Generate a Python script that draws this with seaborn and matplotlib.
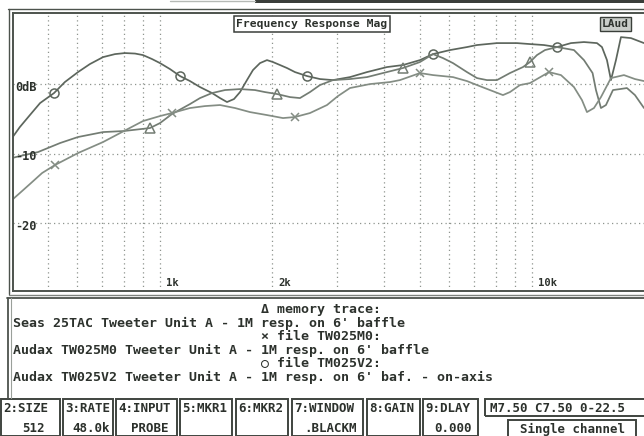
import numpy as np
import matplotlib
matplotlib.use("Agg")
import matplotlib.pyplot as plt
import seaborn as sns
from matplotlib.patches import Rectangle
from matplotlib.lines import Line2D
from matplotlib.ticker import NullLocator, FixedLocator
import matplotlib.transforms as mtransforms

sns.set_theme(style="white")
plt.rcParams['font.family'] = ['DejaVu Sans Mono', 'DejaVu Sans']

# ---------------- data ----------------
# O file TM025V2 (Audax TW025V2, on-axis)
tm025v2_freq = [400, 420, 447, 476, 519, 555, 602, 648, 703, 757, 805, 857, 900, 952, 1000,
                1064, 1132, 1204, 1281, 1380, 1450, 1514, 1581, 1641, 1713, 1778, 1857, 1939,
                2012, 2102, 2195, 2306, 2484, 2692, 2917, 3241, 3601, 4075, 4499, 4998, 5417,
                6018, 6686, 7112, 8049, 9111, 9874, 10768, 11670, 12726, 13792, 14948, 15418,
                15902, 16301, 16813, 17341, 18448, 20000]
tm025v2_db = [-7.75, -6.17, -4.45, -2.73, -1.29, 0.29, 1.72, 2.87, 3.87, 4.30, 4.45, 4.38, 4.16,
              3.59, 3.01, 2.15, 1.15, 0.43, -0.43, -1.29, -2.01, -2.58, -2.15, -1.15, 0.57, 2.01,
              3.01, 3.44, 3.16, 2.73, 2.30, 1.72, 1.15, 0.72, 0.57, 1.00, 1.72, 2.44, 2.73, 3.44,
              4.30, 4.88, 5.31, 5.60, 5.88, 5.88, 5.74, 5.60, 5.31, 5.88, 6.03, 5.88, 5.31, 3.44,
              0.57, 3.44, 6.74, 6.60, 5.88]
tm025v2_marks = [519, 1132, 2484, 5417, 11670]

# Δ memory trace (Seas 25TAC)
seas_freq = [400, 420, 470, 539, 602, 703, 800, 940, 1000, 1077, 1204, 1281, 1380, 1495, 1641,
             1800, 1915, 2063, 2236, 2378, 2530, 2692, 2917, 3241, 3601, 3975, 4499, 4998, 5417,
             5763, 6131, 6686, 7112, 7566, 8049, 8724, 9455, 9874, 10311, 10835, 11670, 12965,
             13792, 14548, 14856, 15322, 15804, 16504, 17234, 17997, 18911, 20000]
seas_db = [-10.62, -10.33, -9.76, -8.46, -7.60, -6.89, -6.74, -6.31, -5.60, -4.30, -2.87, -2.01,
           -1.29, -0.86, -0.72, -0.86, -1.15, -1.43, -1.87, -2.01, -1.15, -0.14, 0.57, 0.72, 1.00,
           1.58, 2.30, 3.16, 4.30, 3.73, 3.01, 1.72, 0.86, 0.57, 0.57, 1.58, 2.44, 3.16, 4.16,
           4.88, 5.31, 4.88, 3.44, 1.58, -0.86, -3.44, -3.01, -0.86, -0.72, -0.57, -1.58, -3.44]
seas_marks = [940, 2063, 4499, 9874]

# × file TW025M0 (Audax TW025M0)
tw025m0_freq = [400, 420, 447, 482, 522, 602, 703, 800, 900, 1000, 1077, 1204, 1321, 1450, 1591,
                1745, 1939, 2141, 2306, 2530, 2811, 3009, 3241, 3668, 4151, 4416, 4998, 5417,
                6131, 6686, 7112, 7708, 8354, 8724, 9281, 9874, 11106, 11962, 12965, 13623,
                14051, 14673, 15322, 16301, 17666, 18911, 20000]
tw025m0_db = [-16.64, -15.64, -14.35, -12.77, -11.62, -9.90, -8.32, -6.74, -5.31, -4.59, -4.16,
              -3.44, -3.16, -3.01, -3.44, -4.02, -4.45, -4.88, -4.73, -4.16, -3.01, -1.72, -0.57,
              0.00, 0.29, 0.57, 1.58, 1.29, 1.00, 0.43, -0.14, -0.86, -1.58, -1.15, -0.14, 0.14,
              1.72, 1.29, -0.43, -2.30, -4.02, -3.44, -1.87, 0.86, 1.29, 0.72, 0.43]
tw025m0_marks = [522, 1077, 2306, 4998, 11106]

grid_freqs = [500, 600, 700, 800, 900, 1000, 2000, 3000, 4000, 5000, 6000, 7000, 8000, 9000, 10000]
grid_db = [0, -10, -20]
db_labels = ["0dB", "-10", "-20"]
freq_label_vals = [1000, 2000, 10000]
freq_labels = ["1k", "2k", "10k"]

header_lines = ["\u0394 memory trace:", "\u00d7 file TW025M0:", "\u25cb file TM025V2:"]
desc_lines = ["Seas 25TAC Tweeter Unit A - 1M resp. on 6' baffle",
              "Audax TW025M0 Tweeter Unit A - 1M resp. on 6' baffle",
              "Audax TW025V2 Tweeter Unit A - 1M resp. on 6' baf. - on-axis"]

button_labels = ["2:SIZE", "3:RATE", "4:INPUT", "5:MKR1", "6:MKR2", "7:WINDOW", "8:GAIN", "9:DLAY"]
button_values = ["512", "48.0k", "PROBE", "", "", ".BLACKM", "", "0.000"]
status_text = "M7.50 C7.50 0-22.5"
mode_text = "Single channel"
title_text = "Frequency Response Mag"
tag_text = "LAud"

# ---------------- figure ----------------
W, H = 644, 436
def fx(p): return p / W
def fy(p): return 1 - p / H

INK = "#2c312c"
fig = plt.figure(figsize=(6.44, 4.36), dpi=100)
fig.patch.set_facecolor("white")

ax = fig.add_axes([fx(13), fy(291), 1 - fx(13), fy(13) - fy(291)])
ax.set_xscale("log")
ax.set_xlim(402.6, 20000)
ax.set_ylim(-29.7, 10.2)

def mark_idx(freqs, marks):
    arr = np.array(freqs, dtype=float)
    return [int(np.argmin(np.abs(np.log(arr) - np.log(m)))) for m in marks]

curves = [
    (tm025v2_freq, tm025v2_db, tm025v2_marks, "o", "#5d665d", 6.5),
    (seas_freq, seas_db, seas_marks, "^", "#737c73", 6.5),
    (tw025m0_freq, tw025m0_db, tw025m0_marks, "x", "#848d84", 6),
]
for fr, db, mk, m, c, ms in curves:
    sns.lineplot(x=fr, y=db, ax=ax, sort=False, estimator=None, color=c, lw=1.25,
                 marker=m, markevery=mark_idx(fr, mk), markersize=ms,
                 markerfacecolor="none", markeredgecolor=c, markeredgewidth=1.1)
    ax.lines[-1].set_markerfacecolor("none")

ax.xaxis.set_major_locator(FixedLocator(grid_freqs))
ax.xaxis.set_minor_locator(NullLocator())
ax.yaxis.set_major_locator(FixedLocator(grid_db))
ax.grid(True, which="major", linestyle=(0, (1, 2.6)), color="#8e948e", lw=0.9)
ax.tick_params(labelbottom=False, labelleft=False, length=0)
ax.set_xlabel("")
ax.set_ylabel("")
for s in ["left", "top", "bottom"]:
    ax.spines[s].set_color("#4d534d")
    ax.spines[s].set_linewidth(1.4)
ax.spines["right"].set_visible(False)

# in-plot axis labels
ytrans = mtransforms.offset_copy(mtransforms.blended_transform_factory(ax.transAxes, ax.transData),
                                 fig=fig, x=2, y=-3, units="dots")
for v, lab in zip(grid_db, db_labels):
    ax.text(0.0, v, lab, transform=ytrans, ha="left", va="center", fontsize=8.6,
            fontweight="bold", color=INK)
xtrans = mtransforms.offset_copy(mtransforms.blended_transform_factory(ax.transData, ax.transAxes),
                                 fig=fig, x=6, y=3, units="dots")
for v, lab in zip(freq_label_vals, freq_labels):
    ax.text(v, 0.0, lab, transform=xtrans, ha="left", va="bottom", fontsize=7.6,
            fontweight="bold", color=INK)

# title & tag boxes
fig.text(fx(312), fy(24), title_text, ha="center", va="center", fontsize=8.2, fontweight="bold",
         color=INK, bbox=dict(boxstyle="square,pad=0.25", fc="white", ec="#3a3f3a", lw=1.1))
fig.text(fx(615), fy(24), tag_text, ha="center", va="center", fontsize=8.0, fontweight="bold",
         color=INK, bbox=dict(boxstyle="square,pad=0.18", fc="#c9cdc9", ec="#3a3f3a", lw=1.0))

# frame extras (scan border lines)
def hline(x0, x1, y, lw=1.2, c="#4d534d"):
    fig.add_artist(Line2D([fx(x0), fx(x1)], [fy(y), fy(y)], transform=fig.transFigure, lw=lw, color=c))
def vline(x, y0, y1, lw=1.2, c="#4d534d"):
    fig.add_artist(Line2D([fx(x), fx(x)], [fy(y0), fy(y1)], transform=fig.transFigure, lw=lw, color=c))

fig.add_artist(Rectangle((fx(255), fy(3)), 1 - fx(255), 3 / H, transform=fig.transFigure,
                         color="#3a3e3a", lw=0))
hline(170, 255, 1.5, lw=1.0, c="#b5b9b5")
hline(8, 650, 9.5, lw=1.0)
vline(9, 9.5, 294, lw=1.0)
hline(9, 650, 294.5, lw=1.0, c="#7d827d")

# text panel: each header + description as one two-line text block
hline(7, 650, 298, lw=1.3)
vline(8, 298, 398, lw=1.3)
vline(11, 298, 398, lw=0.8, c="#9aa09a")
char_px = 9.5 / 72 * 100 * 0.602
for i, (h, d) in enumerate(zip(header_lines, desc_lines)):
    y0 = 311 + i * 27
    pad = " " * int(round((262 - 13) / char_px))
    fig.text(fx(13), fy(y0 + 5.5), pad + h + "\n" + d, ha="left", va="center",
             fontsize=9.5, fontweight="bold", color=INK, linespacing=1.08)

# button row
btn_x = [(0, 61), (62, 114), (115, 178), (179, 233), (235, 289), (291, 364), (366, 421), (422, 479)]
for (x0, x1), lab, val in zip(btn_x, button_labels, button_values):
    fig.add_artist(Rectangle((fx(x0 + 1), fy(436)), fx(x1 - x0 - 2), (436 - 399) / H,
                             transform=fig.transFigure, fill=False, ec="#3f443f", lw=1.4))
    fig.text(fx(x0 + 3), fy(408), lab, ha="left", va="center", fontsize=9.0, fontweight="bold", color=INK)
    if val:
        fig.text(fx((x0 + x1) / 2 + 3), fy(428), val, ha="center", va="center", fontsize=9.0,
                 fontweight="bold", color=INK)

fig.add_artist(Rectangle((fx(485), fy(416)), 1 - fx(485) + 0.01, (416 - 399) / H,
                         transform=fig.transFigure, fill=False, ec="#3f443f", lw=1.4))
fig.text(fx(490), fy(408), status_text, ha="left", va="center", fontsize=9.0, fontweight="bold", color=INK)
fig.add_artist(Rectangle((fx(508), fy(437)), fx(636 - 508), (437 - 420) / H,
                         transform=fig.transFigure, fill=False, ec="#3f443f", lw=1.4))
fig.text(fx(572), fy(429), mode_text, ha="center", va="center", fontsize=9.0, fontweight="bold", color=INK)

fig.savefig("out.png", dpi=100, facecolor="white")
